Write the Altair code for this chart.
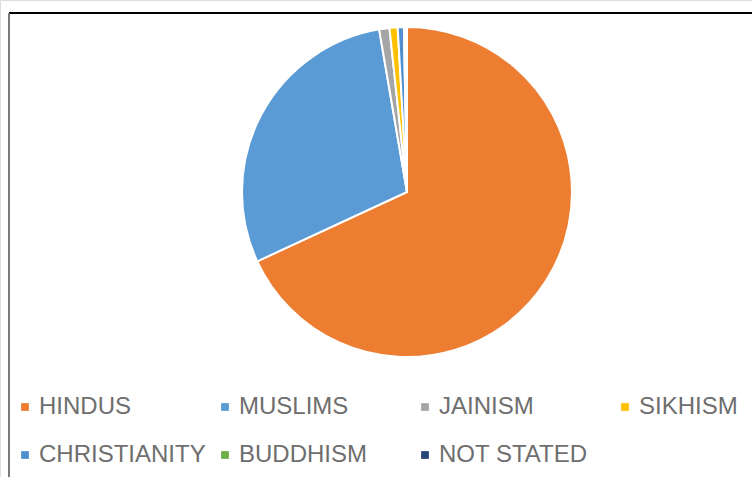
import altair as alt
import pandas as pd

religions = ["HINDUS", "MUSLIMS", "JAINISM", "SIKHISM", "CHRISTIANITY", "BUDDHISM", "NOT STATED"]
shares = [68.1, 29.2, 1.0, 0.8, 0.6, 0.1, 0.2]
colors = ["#ED7D31", "#5B9BD5", "#A5A5A5", "#FFC000", "#4F8FD0", "#70AD47", "#264478"]

df = pd.DataFrame({"religion": religions, "share": shares, "order": list(range(len(religions)))})

pie = alt.Chart(df).mark_arc(stroke="white", strokeWidth=2).encode(
    theta=alt.Theta("share:Q", stack=True),
    order=alt.Order("order:Q"),
    color=alt.Color(
        "religion:N",
        sort=religions,
        scale=alt.Scale(domain=religions, range=colors),
        legend=alt.Legend(
            title=None,
            orient="none",
            legendX=13,
            legendY=395,
            direction="horizontal",
            columns=4,
            gridAlign="all",
            columnPadding=7,
            rowPadding=24,
            symbolType="square",
            symbolSize=60,
            symbolStrokeWidth=0,
            symbolOffset=0,
            labelFont="Liberation Sans, sans-serif",
            labelFontSize=24,
            labelColor="#6e6e6e",
            labelOffset=2,
            labelLimit=300,
        ),
    ),
    x=alt.value(407),
    y=alt.value(192),
    radius=alt.value(165),
)

top_line = alt.Chart(df).mark_rule(color="black", strokeWidth=2).encode(
    x=alt.value(9), x2=alt.value(752), y=alt.value(13)
)
left_line = alt.Chart(df).mark_rule(color="#7a7a7a", strokeWidth=2).encode(
    x=alt.value(9), y=alt.value(13), y2=alt.value(477)
)

chart = alt.layer(pie, top_line, left_line).properties(
    width=752, height=477, padding=0, autosize=alt.AutoSizeParams(type="none")
).configure_view(stroke=None).configure(background="white")

chart.save("out.html", embed_options={"renderer": "svg", "actions": False})
